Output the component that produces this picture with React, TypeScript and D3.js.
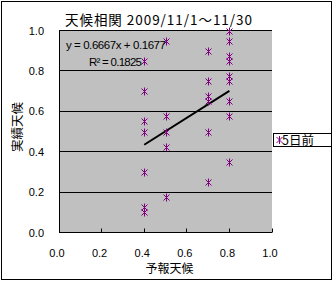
import React from "react";
import * as d3 from "d3";

const titleText = "天候相関 2009/11/1～11/30";
const xAxisTitle = "予報天候";
const yAxisTitle = "実績天候";
const seriesName = "5日前";
const xTicks = [0, 0.2, 0.4, 0.6, 0.8, 1.0];
const yTicks = [0, 0.2, 0.4, 0.6, 0.8, 1.0];
const forecast = [
  0.4, 0.4, 0.4, 0.4, 0.4, 0.4, 0.4,
  0.5, 0.5, 0.5, 0.5, 0.5,
  0.7, 0.7, 0.7, 0.7, 0.7, 0.7,
  0.8, 0.8, 0.8, 0.8, 0.8, 0.8, 0.8, 0.8, 0.8,
];
const actual = [
  0.85, 0.7, 0.55, 0.5, 0.3, 0.125, 0.1,
  0.95, 0.575, 0.5, 0.425, 0.175,
  0.9, 0.75, 0.675, 0.65, 0.5, 0.25,
  1.0, 0.95, 0.875, 0.85, 0.775, 0.75, 0.65, 0.575, 0.35,
];
const trendSlope = 0.6667;
const trendIntercept = 0.1677;
const trendRange = [0.4, 0.8];
const equationText = "y = 0.6667x + 0.1677";
const r2Text = "R² = 0.1825";

const W = 333;
const H = 281;
const PLOT = { left: 59, right: 272, top: 30.5, bottom: 232.5 };
const PURPLE = "#800080";
const numFont = "'Liberation Sans', Arial, sans-serif";
const jpFont = "'Noto Sans CJK JP', sans-serif";

function Star({ x, y }: { x: number; y: number }) {
  const d = `M${x - 3},${y - 3}L${x + 3},${y + 3}M${x - 3},${y + 3}L${x + 3},${y - 3}M${x},${y - 4}L${x},${y + 4}`;
  return <path d={d} stroke={PURPLE} strokeWidth={1} fill="none" />;
}

export default function App() {
  const x = d3.scaleLinear().domain([0, 1]).range([PLOT.left, PLOT.right]);
  const y = d3.scaleLinear().domain([0, 1]).range([PLOT.bottom, PLOT.top]);
  const crisp = (v: number) => Math.round(v - 0.5) + 0.5;
  const line = d3
    .line<number>()
    .x((d) => x(d))
    .y((d) => y(trendSlope * d + trendIntercept));
  const fmt = d3.format(".1f");

  return (
    <div style={{ position: "absolute", left: 0, top: 0 }}>
      <svg width={W} height={H} style={{ display: "block", background: "#fff" }}>
        <rect x={1.5} y={1.5} width={330} height={278} fill="#fff" stroke="#000" strokeWidth={1} />
        <rect
          x={PLOT.left}
          y={PLOT.top}
          width={PLOT.right - PLOT.left}
          height={PLOT.bottom - PLOT.top}
          fill="#C0C0C0"
        />
        {yTicks.map((t) => (
          <line
            key={"g" + t}
            x1={PLOT.left}
            x2={PLOT.right}
            y1={crisp(y(t))}
            y2={crisp(y(t))}
            stroke="#000"
            strokeWidth={1}
          />
        ))}
        <line x1={crisp(PLOT.left)} x2={crisp(PLOT.left)} y1={PLOT.top} y2={PLOT.bottom + 0.5} stroke="#000" />
        {xTicks.map((t) => (
          <line
            key={"xt" + t}
            x1={crisp(x(t))}
            x2={crisp(x(t))}
            y1={crisp(y(0))}
            y2={crisp(y(0)) - 4}
            stroke="#000"
          />
        ))}
        {yTicks.map((t) => (
          <text
            key={"yl" + t}
            x={44}
            y={y(t) + 4}
            textAnchor="end"
            fontFamily={numFont}
            fontSize={11}
            fill="#000"
          >
            {fmt(t)}
          </text>
        ))}
        {xTicks.map((t) => (
          <text
            key={"xl" + t}
            x={x(t) - 2}
            y={257}
            textAnchor="middle"
            fontFamily={numFont}
            fontSize={11}
            fill="#000"
          >
            {fmt(t)}
          </text>
        ))}
        <path
          d={line(trendRange) || ""}
          stroke="#000"
          strokeWidth={2}
          fill="none"
        />
        {forecast.map((f, i) => (
          <Star key={"p" + i} x={Math.round(x(f)) + 0.5} y={Math.round(y(actual[i])) + 0.5} />
        ))}
        <text x={65} y={25} fontFamily={jpFont} fontSize={13.5} textLength={187} lengthAdjust="spacing" fill="#000">
          {titleText}
        </text>
        <text x={66} y={49} fontFamily={numFont} fontSize={11.5} textLength={100} lengthAdjust="spacing" fill="#000">
          {equationText}
        </text>
        <text x={89} y={66} fontFamily={numFont} fontSize={11.5} textLength={53} lengthAdjust="spacing" fill="#000">
          {r2Text}
        </text>
        <text x={169.5} y={273} textAnchor="middle" fontFamily={jpFont} fontSize={12} fill="#000">
          {xAxisTitle}
        </text>
        <text
          transform={`translate(22,127) rotate(-90)`}
          textAnchor="middle"
          fontFamily={jpFont}
          fontSize={12.5}
          fill="#000"
        >
          {yAxisTitle}
        </text>
        <rect x={273.5} y={133.5} width={58} height={13} fill="#fff" stroke="#000" strokeWidth={1} />
        <Star x={279.5} y={140} />
        <text x={282} y={144.5} fontFamily={jpFont} fontSize={12.5} fill="#000">
          {seriesName}
        </text>
      </svg>
    </div>
  );
}
